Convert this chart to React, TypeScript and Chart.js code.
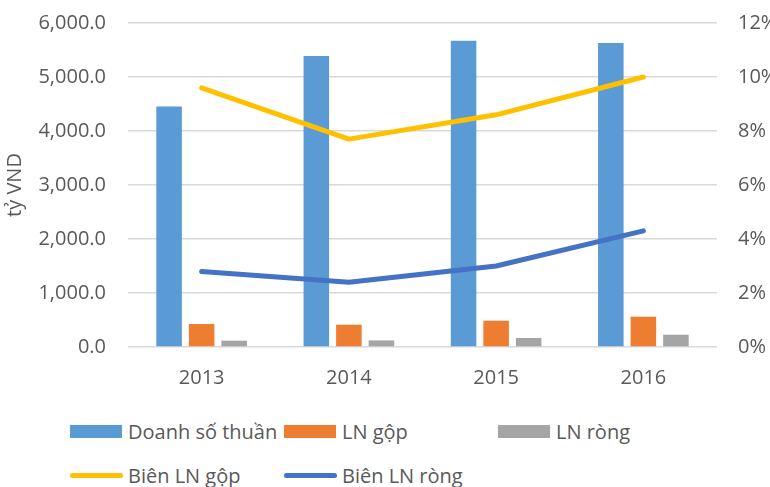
import React, { useEffect, useRef } from "react";
import { Chart, registerables } from "chart.js";

Chart.register(...registerables);

const categories = ["2013", "2014", "2015", "2016"];
const doanhSoThuan = [4455, 5390, 5670, 5630];
const lnGop = [425, 413, 487, 561];
const lnRong = [117, 122, 167, 228];
const bienLnGop = [9.6, 7.7, 8.6, 10.0];
const bienLnRong = [2.8, 2.4, 3.0, 4.3];
const leftTicks = [0, 1000, 2000, 3000, 4000, 5000, 6000];
const rightTicks = [0, 2, 4, 6, 8, 10, 12];
const yTitle = "tỷ VND";

const barSeries = [
  { label: "Doanh số thuần", data: doanhSoThuan, color: "#5B9BD5" },
  { label: "LN gộp", data: lnGop, color: "#ED7D31" },
  { label: "LN ròng", data: lnRong, color: "#A5A5A5" },
];
const lineSeries = [
  { label: "Biên LN gộp", data: bienLnGop, color: "#FFC000" },
  { label: "Biên LN ròng", data: bienLnRong, color: "#4472C4" },
];

const FONT = "'Open Sans', 'Noto Sans', sans-serif";
const FS = 20;
const TEXT = "#595959";
const GRID = "#D9D9D9";

export default function App() {
  const ref = useRef<HTMLCanvasElement | null>(null);

  useEffect(() => {
    document.body.style.margin = "0";
    if (!ref.current) return;
    const chart = new Chart(ref.current, {
      type: "bar",
      data: {
        labels: categories,
        datasets: [
          ...barSeries.map((s) => ({
            type: "bar" as const,
            label: s.label,
            data: s.data,
            backgroundColor: s.color,
            borderColor: s.color,
            borderWidth: 0,
            yAxisID: "y",
            order: 2,
            categoryPercentage: 0.663,
            barPercentage: 0.785,
          })),
          ...lineSeries.map((s) => ({
            type: "line" as const,
            label: s.label,
            data: s.data,
            borderColor: s.color,
            backgroundColor: s.color,
            borderWidth: 5,
            borderCapStyle: "round" as const,
            borderJoinStyle: "round" as const,
            pointRadius: 0,
            pointHoverRadius: 0,
            tension: 0,
            yAxisID: "y1",
            order: 1,
          })),
        ],
      },
      options: {
        animation: false,
        responsive: false,
        maintainAspectRatio: false,
        layout: { padding: { top: 23, left: 0, right: 0, bottom: 0 } },
        plugins: {
          legend: { display: false },
          tooltip: { enabled: false },
        },
        scales: {
          x: {
            grid: { display: false, drawTicks: false },
            border: { display: false },
            ticks: {
              color: TEXT,
              font: { family: FONT, size: FS },
              padding: 19,
            },
            afterFit: (s: any) => {
              s.height = 53;
              s.paddingLeft = 0;
              s.paddingRight = 0;
            },
          },
          y: {
            position: "left",
            min: 0,
            max: 6000,
            afterBuildTicks: (s: any) => {
              s.ticks = leftTicks.map((v) => ({ value: v }));
            },
            grid: { color: GRID, lineWidth: 1.5, drawTicks: false },
            border: { display: false },
            ticks: {
              color: TEXT,
              font: { family: FONT, size: FS },
              padding: 22,
              callback: (v: any) =>
                Number(v).toLocaleString("en-US", {
                  minimumFractionDigits: 1,
                  maximumFractionDigits: 1,
                }),
            },
            title: {
              display: true,
              text: yTitle,
              color: TEXT,
              font: { family: FONT, size: FS },
              padding: { top: 3, bottom: 3 },
            },
            afterFit: (s: any) => {
              s.width = 128;
              s.paddingTop = 0;
              s.paddingBottom = 0;
            },
          },
          y1: {
            position: "right",
            min: 0,
            max: 12,
            afterBuildTicks: (s: any) => {
              s.ticks = rightTicks.map((v) => ({ value: v }));
            },
            grid: { display: false, drawTicks: false },
            border: { display: false },
            ticks: {
              color: TEXT,
              font: { family: FONT, size: FS },
              padding: 21,
              callback: (v: any) => `${v}%`,
            },
            afterFit: (s: any) => {
              s.width = 53;
              s.paddingTop = 0;
              s.paddingBottom = 0;
            },
          },
        },
      },
    });
    return () => chart.destroy();
  }, []);

  const legendItems = [
    ...barSeries.map((s) => ({ label: s.label, color: s.color, kind: "bar" })),
    ...lineSeries.map((s) => ({ label: s.label, color: s.color, kind: "line" })),
  ];

  return (
    <div style={{ position: "relative", width: 770, height: 487, background: "#fff", overflow: "hidden" }}>
      <canvas ref={ref} width={770} height={400} style={{ position: "absolute", left: 0, top: 0, width: 770, height: 400 }} />
      <div
        style={{
          position: "absolute",
          left: 70,
          top: 411,
          display: "grid",
          gridTemplateColumns: "214px 214px 214px",
          gridAutoRows: "44px",
          fontFamily: FONT,
          fontSize: FS,
          color: TEXT,
        }}
      >
        {legendItems.map((it, i) => (
          <div key={i} style={{ display: "flex", alignItems: "center", height: 40, gridColumn: i < 3 ? i + 1 : i - 2 }}>
            {it.kind === "bar" ? (
              <span style={{ display: "inline-block", width: 52, height: 13, background: it.color, marginRight: 6 }} />
            ) : (
              <span style={{ display: "inline-block", width: 53, height: 5, borderRadius: 3, background: it.color, marginRight: 5 }} />
            )}
            <span style={{ whiteSpace: "nowrap" }}>{it.label}</span>
          </div>
        ))}
      </div>
    </div>
  );
}
